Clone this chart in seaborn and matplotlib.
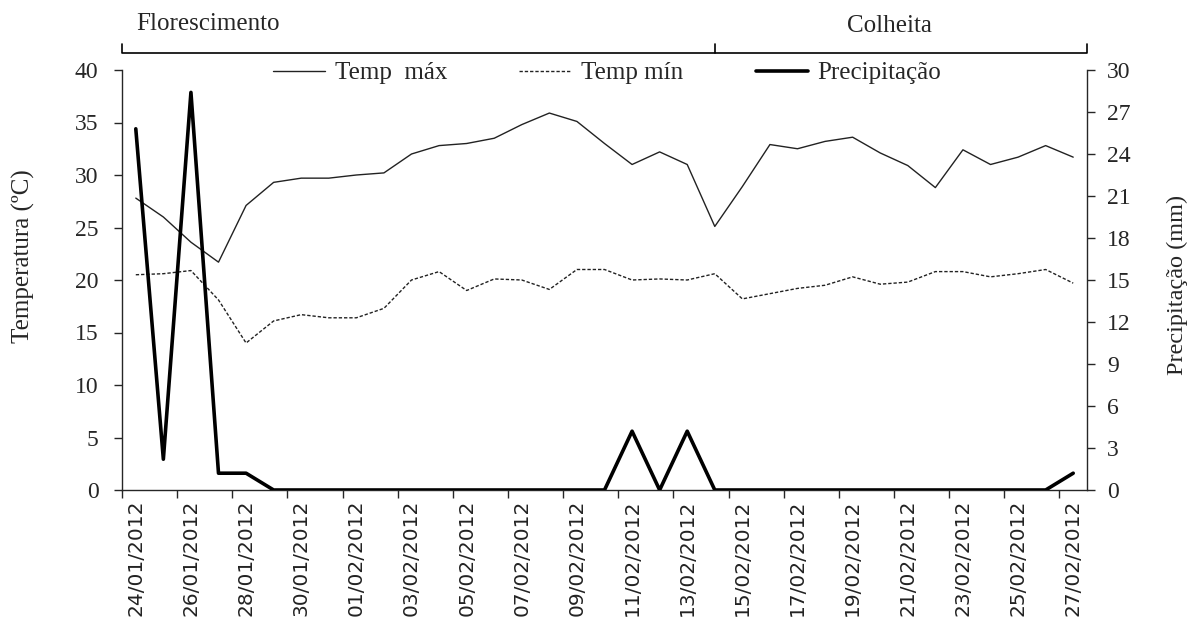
import matplotlib
matplotlib.use("Agg")
import matplotlib.pyplot as plt
import matplotlib.transforms as mtransforms
from matplotlib.lines import Line2D
import numpy as np
import pandas as pd
import seaborn as sns

# ---------------- data ----------------
dates = [
    "24/01/2012", "25/01/2012", "26/01/2012", "27/01/2012", "28/01/2012",
    "29/01/2012", "30/01/2012", "31/01/2012", "01/02/2012", "02/02/2012",
    "03/02/2012", "04/02/2012", "05/02/2012", "06/02/2012", "07/02/2012",
    "08/02/2012", "09/02/2012", "10/02/2012", "11/02/2012", "12/02/2012",
    "13/02/2012", "14/02/2012", "15/02/2012", "16/02/2012", "17/02/2012",
    "18/02/2012", "19/02/2012", "20/02/2012", "21/02/2012", "22/02/2012",
    "23/02/2012", "24/02/2012", "25/02/2012", "26/02/2012", "27/02/2012",
]
temp_max = [27.8, 26.0, 23.6, 21.7, 27.1, 29.3, 29.7, 29.7, 30.0, 30.2,
            32.0, 32.8, 33.0, 33.5, 34.8, 35.9, 35.1, 33.0, 31.0, 32.2,
            31.0, 25.1, 28.9, 32.9, 32.5, 33.2, 33.6, 32.1, 30.9, 28.8,
            32.4, 31.0, 31.7, 32.8, 31.7]
temp_min = [20.5, 20.6, 20.9, 18.1, 14.0, 16.1, 16.7, 16.4, 16.4, 17.3,
            20.0, 20.8, 19.0, 20.1, 20.0, 19.1, 21.0, 21.0, 20.0, 20.1,
            20.0, 20.6, 18.2, 18.7, 19.2, 19.5, 20.3, 19.6, 19.8, 20.8,
            20.8, 20.3, 20.6, 21.0, 19.7]
precip = [25.8, 2.2, 28.4, 1.2, 1.2, 0.0, 0.0, 0.0, 0.0, 0.0,
          0.0, 0.0, 0.0, 0.0, 0.0, 0.0, 0.0, 0.0, 4.2, 0.0,
          4.2, 0.0, 0.0, 0.0, 0.0, 0.0, 0.0, 0.0, 0.0, 0.0,
          0.0, 0.0, 0.0, 0.0, 1.2]
series_labels = ["Temp  máx", "Temp mín", "Precipitação"]
phase_labels = ["Florescimento", "Colheita"]
phase_split = "14/02/2012"

# ---------------- style ----------------
sns.set_style("ticks")
plt.rcParams["font.family"] = ["Liberation Serif", "DejaVu Serif"]
plt.rcParams["axes.linewidth"] = 1.0

W, H = 1190, 625
fig = plt.figure(figsize=(W / 100, H / 100), dpi=100)
ax = fig.add_axes([122 / W, 1 - 490 / H, (1087 - 122) / W, 420 / H])

idx = np.arange(len(dates))
df = pd.DataFrame({"idx": idx, "tmax": temp_max, "tmin": temp_min, "prec": precip})

c_line = "#222222"
sns.lineplot(data=df, x="idx", y="tmax", ax=ax, color=c_line, lw=1.0)
sns.lineplot(data=df, x="idx", y="tmin", ax=ax, color=c_line, lw=1.0,
             linestyle=(0, (2.4, 1.4)))
ax2 = ax.twinx()
sns.lineplot(data=df, x="idx", y="prec", ax=ax2, color="black", lw=2.6)

ax.set_xlim(-0.5, len(dates) - 0.5)
ax.set_ylim(0, 40)
ax2.set_ylim(0, 30)
ax.set_yticks(range(0, 41, 5))
ax2.set_yticks(range(0, 31, 3))

ax.set_xticks(idx[::2])
ax.set_xticklabels(dates[::2], rotation=90, family="DejaVu Sans", fontsize=14.5,
                   color="#222222")
ax.set_xticks(np.arange(-0.5, len(dates) - 1, 2), minor=True)
ax.tick_params(axis="x", which="major", length=0, pad=7)
ax.tick_params(axis="x", which="minor", length=6, width=1.0, direction="out")
ax.tick_params(axis="y", length=6, width=1.0, direction="out", pad=11, labelsize=17)
ax2.tick_params(axis="y", length=6, width=1.0, direction="out", pad=8.5, labelsize=17)

for a in (ax, ax2):
    a.set_xlabel("")
    a.set_ylabel("")
ax.spines["top"].set_visible(False)
ax.spines["right"].set_visible(False)
ax2.spines["top"].set_visible(False)
ax2.spines["left"].set_visible(False)
ax2.spines["bottom"].set_visible(False)

# phase bracket above the plot
trans = mtransforms.blended_transform_factory(ax.transData, fig.transFigure)
y_line = 1 - 53 / H
y_top = 1 - 44 / H
x0, x1 = -0.5, len(dates) - 0.5
xs = dates.index(phase_split)
ax.plot([x0, x0, x1, x1], [y_top, y_line, y_line, y_top], transform=trans,
        clip_on=False, color="black", lw=1.2)
ax.plot([xs, xs], [y_line, y_top], transform=trans, clip_on=False,
        color="black", lw=1.2)
fig.text(208 / W, 1 - 24 / H, phase_labels[0], ha="center", va="center", fontsize=18)
fig.text(889 / W, 1 - 26 / H, phase_labels[1], ha="center", va="center", fontsize=18)

# axis titles
fig.text(23 / W, 1 - 256 / H, "Temperatura (ºC)", rotation=90,
         ha="center", va="center", fontsize=18)
fig.text(1177 / W, 1 - 285 / H, "Precipitação (mm)", rotation=90,
         ha="center", va="center", fontsize=17.5)

# legend
handles = [
    Line2D([], [], color=c_line, lw=1.0),
    Line2D([], [], color=c_line, lw=1.0, linestyle=(0, (2.4, 1.4))),
    Line2D([], [], color="black", lw=2.6),
]
fs = 18
px = fs * 100 / 72
fig.legend(handles, series_labels, loc="center left",
           bbox_to_anchor=(273 / W, 1 - 73 / H), ncol=3, frameon=False,
           fontsize=fs, handlelength=52 / px, handletextpad=10 / px,
           columnspacing=72 / px, borderpad=0, borderaxespad=0)

fig.savefig("out.png", dpi=100)
